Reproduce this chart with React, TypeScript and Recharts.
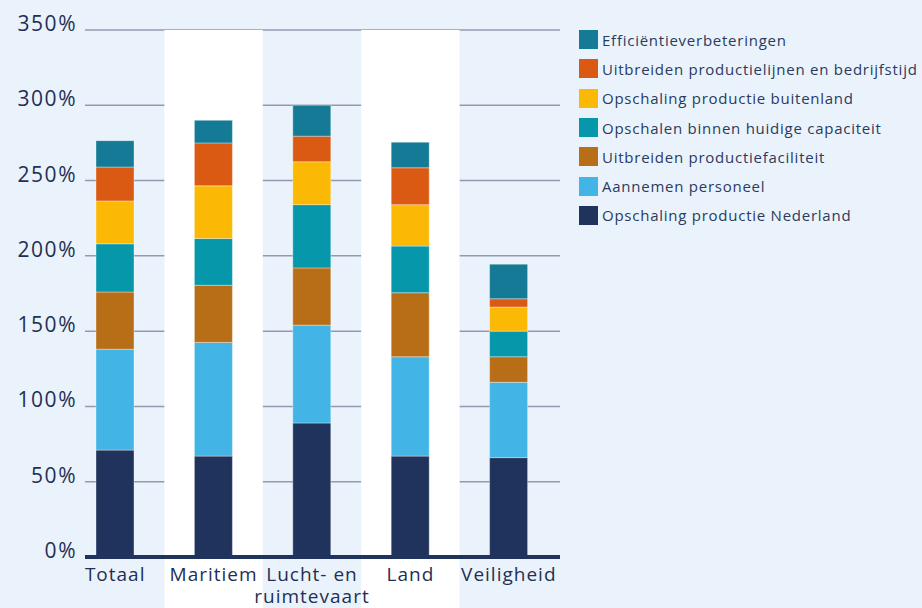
import { Bar, BarChart, CartesianGrid, ReferenceArea, XAxis, YAxis } from "recharts";

const categories = ["Totaal", "Maritiem", "Lucht- en ruimtevaart", "Land", "Veiligheid"];

const nederland = [71, 67, 89, 67, 66];
const personeel = [67, 75.5, 65, 66, 50];
const faciliteit = [38, 38, 38, 42.5, 17];
const capaciteit = [32, 31, 42, 31, 17];
const buitenland = [28.5, 35, 28.5, 27.5, 16];
const productielijnen = [22.5, 28.5, 17, 24.5, 5.5];
const efficientie = [17.5, 15, 20.5, 17, 23];

const yTicks = [0, 50, 100, 150, 200, 250, 300, 350];

// bottom to top
const series = [
  { key: "nederland", name: "Opschaling productie Nederland", color: "#1f335c", values: nederland },
  { key: "personeel", name: "Aannemen personeel", color: "#42b5e6", values: personeel },
  { key: "faciliteit", name: "Uitbreiden productiefaciliteit", color: "#b86e17", values: faciliteit },
  { key: "capaciteit", name: "Opschalen binnen huidige capaciteit", color: "#0697aa", values: capaciteit },
  { key: "buitenland", name: "Opschaling productie buitenland", color: "#fbb906", values: buitenland },
  { key: "productielijnen", name: "Uitbreiden productielijnen en bedrijfstijd", color: "#db5a13", values: productielijnen },
  { key: "efficientie", name: "Efficiëntieverbeteringen", color: "#147a96", values: efficientie },
];

const data = categories.map((name, i) => {
  const row: Record<string, string | number> = { name };
  series.forEach((s) => (row[s.key] = s.values[i]));
  return row;
});

const textColor = "#1f2f55";

const YTick = (props: any) => {
  const { x, y, payload } = props;
  return (
    <text x={x} y={y + 1} textAnchor="end" fill={textColor} fontSize={21} letterSpacing={1.5}>
      {payload.value}%
    </text>
  );
};

const XTick = (props: any) => {
  const { x, y, payload } = props;
  const value: string = payload.value;
  const idx = value.lastIndexOf(" ");
  const lines = value.length > 12 ? [value.slice(0, idx), value.slice(idx + 1)] : [value];
  return (
    <g>
      {lines.map((l, i) => (
        <text key={i} x={x} y={y + 16 + i * 22} textAnchor="middle" fill={textColor} fontSize={19} letterSpacing={1}>
          {l}
        </text>
      ))}
    </g>
  );
};

const ChartLegend = () => (
  <div style={{ position: "absolute", left: 579, top: 25 }}>
    {[...series].reverse().map((s) => (
      <div key={s.key} style={{ display: "flex", alignItems: "center", height: 29.3 }}>
        <span style={{ width: 19, height: 19, background: s.color, marginRight: 4, display: "inline-block" }} />
        <span style={{ fontSize: 15, color: "#2b3a5e", letterSpacing: 0.75, whiteSpace: "nowrap" }}>{s.name}</span>
      </div>
    ))}
  </div>
);

export default function App() {
  return (
    <div
      style={{
        position: "absolute",
        top: 0,
        left: 0,
        width: 922,
        height: 608,
        background: "#eaf3fb",
        fontFamily: '"Open Sans", sans-serif',
      }}
    >
      <BarChart
        width={922}
        height={608}
        data={data}
        margin={{ top: 30, right: 362, bottom: 0, left: 0 }}
        barSize={38}
      >
        <ReferenceArea x1="Maritiem" x2="Maritiem" y1={-34} y2={350} fill="#ffffff" fillOpacity={1} ifOverflow="visible" />
        <ReferenceArea x1="Land" x2="Land" y1={-34} y2={350} fill="#ffffff" fillOpacity={1} ifOverflow="visible" />
        <CartesianGrid vertical={false} stroke="#9499b0" strokeWidth={1.5} />
        <XAxis
          dataKey="name"
          height={51}
          tickLine={false}
          axisLine={{ stroke: "#1f335c", strokeWidth: 4 }}
          tick={<XTick />}
          interval={0}
          padding={{ left: -19, right: 2 }}
        />
        <YAxis
          width={85}
          domain={[0, 350]}
          ticks={yTicks}
          tickLine={false}
          axisLine={false}
          tickSize={0}
          tickMargin={8}
          tick={<YTick />}
        />
        {series.map((s) => (
          <Bar
            key={s.key}
            dataKey={s.key}
            name={s.name}
            stackId="a"
            fill={s.color}
            stroke="#ffffff"
            strokeOpacity={0.35}
            strokeWidth={1}
            isAnimationActive={false}
          />
        ))}
      </BarChart>
      <ChartLegend />
    </div>
  );
}
